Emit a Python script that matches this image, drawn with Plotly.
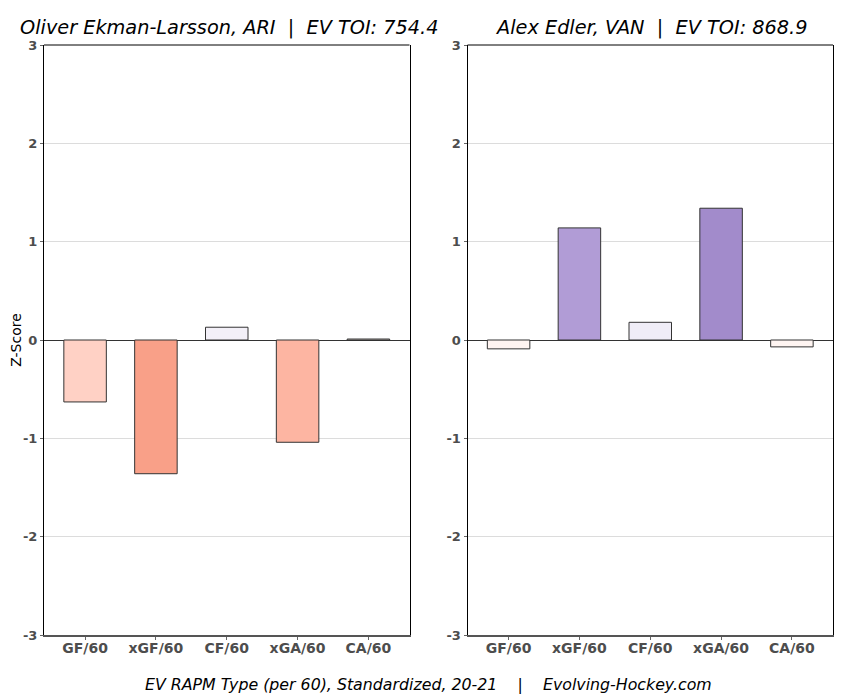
import plotly.graph_objects as go
from plotly.subplots import make_subplots

metrics = ["GF/60", "xGF/60", "CF/60", "xGA/60", "CA/60"]
oel_values = [-0.63, -1.36, 0.13, -1.04, 0.01]
edler_values = [-0.09, 1.14, 0.18, 1.34, -0.07]
oel_colors = ["#FFD1C5", "#F9A088", "#F3F0F8", "#FDB5A2", "#FFF5F1"]
edler_colors = ["#FFF4F1", "#B19CD6", "#F0EDF7", "#A28BCB", "#FFF5F2"]
titles = ["Oliver Ekman-Larsson, ARI  |  EV TOI: 754.4", "Alex Edler, VAN  |  EV TOI: 868.9"]
y_ticks = [-3, -2, -1, 0, 1, 2, 3]
y_ticktext = [str(v) for v in y_ticks]
caption = "EV RAPM Type (per 60), Standardized, 20-21    |    Evolving-Hockey.com"

FONT = "DejaVu Sans"
L, R, T, B = 36, 25, 37, 73
PW = 850 - L - R

fig = make_subplots(rows=1, cols=2, horizontal_spacing=58 / PW)

for i, (vals, cols) in enumerate([(oel_values, oel_colors), (edler_values, edler_colors)]):
    fig.add_trace(go.Bar(
        x=metrics, y=vals, width=0.6,
        marker=dict(color=cols, line=dict(color="#333333", width=1)),
        showlegend=False, hoverinfo="x+y"), row=1, col=i + 1)

for i in (1, 2):
    fig.update_xaxes(row=1, col=i, range=[-0.58, 4.58], showgrid=False, automargin=False,
                     showline=True, linecolor="#555555", linewidth=1.6, mirror=False,
                     ticks="outside", ticklen=3, tickcolor="#666666", ticklabelstandoff=-4,
                     tickfont=dict(family=FONT, size=14, color="#4d4d4d", weight="bold"))
    fig.update_yaxes(row=1, col=i, range=[-3, 3], tickvals=y_ticks, ticktext=y_ticktext,
                     automargin=False,
                     showgrid=True, gridcolor="#dcdcdc", gridwidth=1,
                     zeroline=True, zerolinecolor="#333333", zerolinewidth=1,
                     showline=True, linecolor="black", linewidth=1, mirror=True,
                     ticks="outside", ticklen=3, tickcolor="#666666",
                     tickfont=dict(family=FONT, size=13, color="#4d4d4d", weight="bold"))
    xr = "x domain" if i == 1 else "x2 domain"
    yr = "y domain" if i == 1 else "y2 domain"
    fig.add_shape(type="line", xref=xr, yref=yr, x0=0, x1=1, y0=1, y1=1,
                  line=dict(color="black", width=1))

fig.update_yaxes(row=1, col=1, title=dict(text="Z-Score", font=dict(family=FONT, size=14, color="black"), standoff=6))

annotations = []
centers = [(228 - 7 - L) / PW, (650 - 7 - L) / PW]
for t, cx in zip(titles, centers):
    annotations.append(dict(text=t, x=cx, y=1.0, xref="paper", yref="paper",
                            xanchor="center", yanchor="bottom", yshift=4, showarrow=False,
                            font=dict(family=FONT, size=19.3, color="black", style="italic")))
annotations.append(dict(text=caption, x=(427 - 7 - L) / PW, y=0, xref="paper", yref="paper",
                        xanchor="center", yanchor="top", yshift=-38, showarrow=False,
                        font=dict(family=FONT, size=15.8, color="black", style="italic")))

fig.update_layout(width=850, height=700, margin=dict(l=L, r=R, t=T, b=B),
                  plot_bgcolor="white", paper_bgcolor="white",
                  annotations=annotations, bargap=0.4)

fig.write_html("out.html")
